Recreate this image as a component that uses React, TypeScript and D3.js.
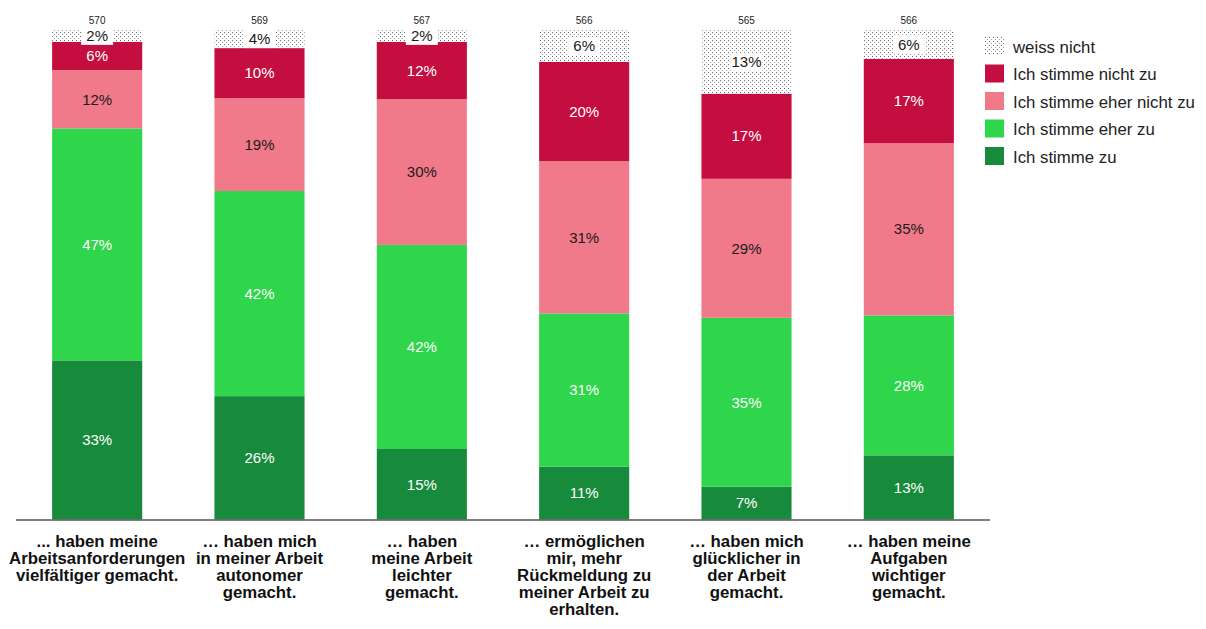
import React from "react";
import * as d3 from "d3";

const categories = [
  ["... haben meine", "Arbeitsanforderungen", "vielfältiger gemacht."],
  ["… haben mich", "in meiner Arbeit", "autonomer", "gemacht."],
  ["… haben", "meine Arbeit", "leichter", "gemacht."],
  ["… ermöglichen", "mir, mehr", "Rückmeldung zu", "meiner Arbeit zu", "erhalten."],
  ["… haben mich", "glücklicher in", "der Arbeit", "gemacht."],
  ["… haben meine", "Aufgaben", "wichtiger", "gemacht."],
];
const nValues = [570, 569, 567, 566, 565, 566];

const seriesNames = ["Ich stimme zu", "Ich stimme eher zu", "Ich stimme eher nicht zu", "Ich stimme nicht zu", "weiss nicht"];
const stimmeZu = [32.5, 25.2, 14.4, 10.8, 6.7, 13.1];
const eherZu = [47.4, 41.9, 41.7, 31.3, 34.5, 28.6];
const eherNicht = [11.9, 19.0, 29.8, 31.1, 28.4, 35.2];
const nichtZu = [5.8, 10.2, 11.7, 20.3, 17.4, 17.2];
const weissNicht = [2.4, 3.7, 2.4, 6.5, 13.0, 5.9];
const labels = [
  [33, 26, 15, 11, 7, 13],
  [47, 42, 42, 31, 35, 28],
  [12, 19, 30, 31, 29, 35],
  [6, 10, 12, 20, 17, 17],
  [2, 4, 2, 6, 13, 6],
];

const colors = ["#178a3c", "#2fd54a", "#f07a8a", "#c30e3f", "url(#dots)"];
const textColors = ["#ffffff", "#ffffff", "#1a1a1a", "#ffffff", "#1a1a1a"];
const legendOrder = [4, 3, 2, 1, 0];

export default function App() {
  const W = 1206, H = 629;
  const x = d3.scaleBand<number>().domain(d3.range(6)).range([16, 990]).paddingInner(0.445).paddingOuter(0.2225);
  const y = d3.scaleLinear().domain([0, 100]).range([519.5, 30]);
  const rows = d3.range(6).map((i) => ({
    i,
    v0: stimmeZu[i], v1: eherZu[i], v2: eherNicht[i], v3: nichtZu[i], v4: weissNicht[i],
  }));
  const stack = d3.stack<any>().keys(["v0", "v1", "v2", "v3", "v4"])(rows);
  const font = "Liberation Sans, Arial, sans-serif";

  return (
    <svg width={W} height={H} style={{ position: "absolute", left: 0, top: 0 }} fontFamily={font}>
      <defs>
        <pattern id="dots" width="4" height="4" patternUnits="userSpaceOnUse">
          <rect width="4" height="4" fill="#ffffff" />
          <rect x="0" y="0" width="1" height="1" fill="#6a6a6a" />
          <rect x="2" y="2" width="1" height="1" fill="#9a9a9a" />
        </pattern>
      </defs>
      {stack.map((s, si) => (
        <g key={si}>
          {s.map((d, i) => (
            <rect key={i} x={x(i)} width={x.bandwidth()} y={y(d[1])} height={y(d[0]) - y(d[1])} fill={colors[si]} />
          ))}
        </g>
      ))}
      {stack.map((s, si) => (
        <g key={"l" + si}>
          {s.map((d, i) => {
            const cx = (x(i) as number) + x.bandwidth() / 2;
            const cy = (y(d[0]) + y(d[1])) / 2;
            const t = labels[si][i] + "%";
            return (
              <g key={i}>
                {si === 4 && <rect x={cx - 16} y={cy - 9} width={32} height={18} fill="#fff" />}
                <text x={cx} y={cy} dy="0.35em" textAnchor="middle" fontSize={15} fill={textColors[si]}>{t}</text>
              </g>
            );
          })}
        </g>
      ))}
      {nValues.map((n, i) => (
        <text key={i} x={(x(i) as number) + x.bandwidth() / 2} y={24} textAnchor="middle" fontSize={10} fill="#222">{n}</text>
      ))}
      <line x1={16} x2={990} y1={520} y2={520} stroke="#555" strokeWidth={1.5} />
      {categories.map((lines, i) => (
        <text key={i} x={(x(i) as number) + x.bandwidth() / 2} y={547} textAnchor="middle" fontSize={16.8} fontWeight="bold" fill="#111">
          {lines.map((l, j) => (
            <tspan key={j} x={(x(i) as number) + x.bandwidth() / 2} dy={j === 0 ? 0 : 17}>{l}</tspan>
          ))}
        </text>
      ))}
      {legendOrder.map((si, k) => (
        <g key={si} transform={`translate(985, ${37 + k * 27.5})`}>
          <rect width={19} height={18} fill={colors[si]} />
          <text x={28} y={10} dy="0.35em" fontSize={16.8} fill="#222">{si === 4 ? "weiss nicht" : seriesNames[si]}</text>
        </g>
      ))}
    </svg>
  );
}
